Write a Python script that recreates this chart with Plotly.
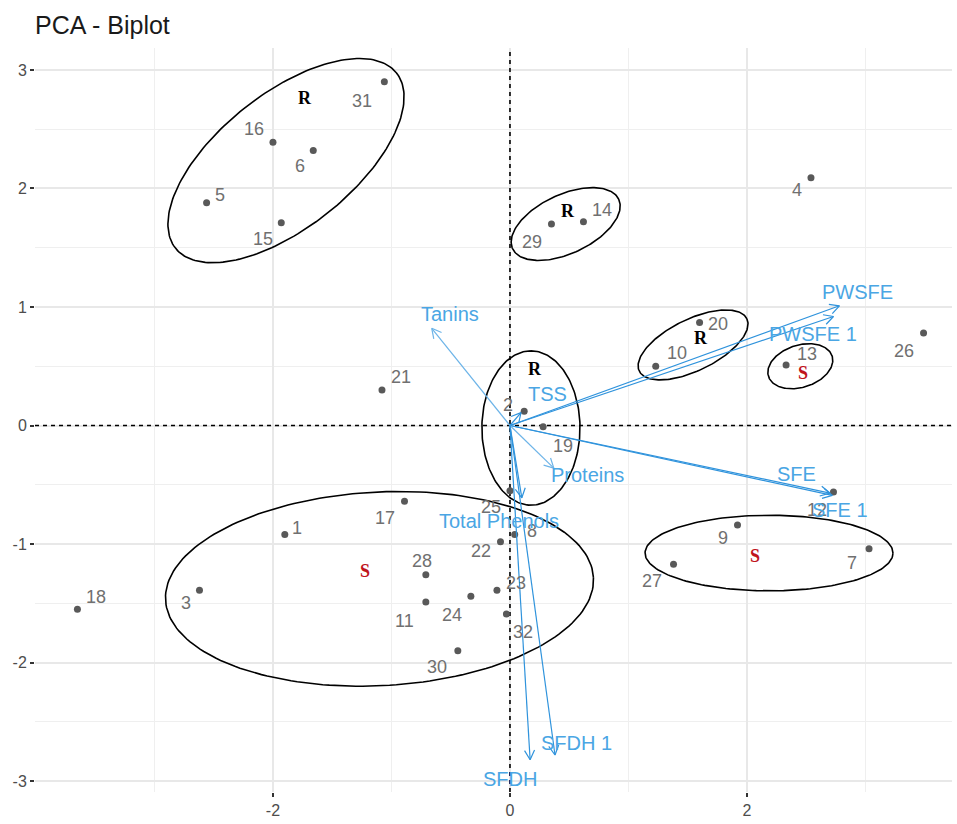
import numpy as np
import plotly.graph_objects as go

# ---- individuals (PC1, PC2 scores) ----
ind_labels = [str(i) for i in range(1, 33)]
ind_x = [-1.90, 0.12, -2.62, 2.54, -2.56, -1.66, 3.03, 0.04, 1.92, 1.23,
         -0.71, 2.73, 2.33, 0.62, -1.93, -2.00, -0.89, -3.65, 0.28, 1.60,
         -1.08, -0.08, -0.11, -0.33, 0.00, 3.49, 1.38, -0.71, 0.35, -0.44,
         -1.06, -0.03]
ind_y = [-0.92, 0.12, -1.39, 2.09, 1.88, 2.32, -1.04, -0.92, -0.84, 0.50,
         -1.49, -0.56, 0.51, 1.72, 1.71, 2.39, -0.64, -1.55, -0.01, 0.87,
         0.30, -0.98, -1.39, -1.44, -0.55, 0.78, -1.17, -1.26, 1.70, -1.90,
         2.90, -1.59]

# ---- variables (loadings, scaled) ----
var_names = ["Tanins", "TSS", "PWSFE", "PWSFE 1", "SFE", "SFE 1",
             "Proteins", "Total Phenols", "SFDH", "SFDH 1"]
var_x = [-0.66, 0.093, 2.78, 2.73, 2.70, 2.72, 0.37, 0.10, 0.17, 0.38]
var_y = [0.82, 0.109, 1.01, 0.92, -0.57, -0.59, -0.36, -0.61, -2.82, -2.78]

# ---- groups: concentration ellipses and their labels ----
group_names = ["R", "R", "R", "R", "S", "S", "S"]
ell_cx = [-1.89, 0.47, 0.177, 1.545, 2.45, -1.101, 2.186]
ell_cy = [2.235, 1.70, -0.021, 0.68, 0.50, -1.378, -1.076]
ell_a = [1.19, 0.494, 0.651, 0.505, 0.282, 1.808, 1.046]
ell_b = [0.565, 0.249, 0.414, 0.217, 0.178, 0.817, 0.319]
ell_angle = [38.4, 25.0, 90.0, 26.0, 17.7, 3.0, 0.0]
group_lab_x = [-1.73, 0.49, 0.21, 1.61, 2.47, -1.22, 2.07]
group_lab_y = [2.76, 1.81, 0.48, 0.74, 0.44, -1.23, -1.10]

# axis ranges and ticks
x_range = [-4.008, 3.73]
y_range = [-3.092, 3.185]
x_ticks = [-2, 0, 2]
y_ticks = [-3, -2, -1, 0, 1, 2, 3]

# label offsets in pixels (dx right, dy up)
ind_lab_off = [(12, 7), (-16, 6), (-13, -13), (-14, -12), (13, 8), (-13, -15),
               (-17, -14), (17, 4), (-15, -13), (21, 13), (-21, -19), (-16, -18),
               (21, 11), (19, 12), (-18, -16), (-19, 13), (-20, -17), (19, 12),
               (20, -19), (18, -2), (19, 13), (-19, -9), (19, 7), (-19, -19),
               (-19, -16), (-20, -18), (-22, -17), (-4, 14), (-19, -18),
               (-21, -16), (-22, -19), (17, -18)]
var_lab_off = [(18, 14), (27, 19), (18, 14), (-20, -18), (-33, 19), (8, -15),
               (34, -7), (-23, -23), (-20, -19), (21, 12)]

FONT = "Liberation Sans, Arial, sans-serif"
BLUE = "#2f93dc"
BLUE_LIGHT = "#6db4e8"
LAB_BLUE = "#4aa6e4"

fig = go.Figure()

# dashed reference axes through the origin
ref_line = dict(color="black", width=1.6, dash="4px,4px")
fig.add_trace(go.Scatter(x=[0, 0], y=y_range, mode="lines", line=ref_line,
                         hoverinfo="skip", showlegend=False, cliponaxis=True))
fig.add_trace(go.Scatter(x=x_range, y=[0, 0], mode="lines", line=ref_line,
                         hoverinfo="skip", showlegend=False, cliponaxis=True))

# ellipses
t = np.linspace(0, 2 * np.pi, 200)
for cx, cy, a, b, ang in zip(ell_cx, ell_cy, ell_a, ell_b, ell_angle):
    th = np.deg2rad(ang)
    ex = cx + a * np.cos(t) * np.cos(th) - b * np.sin(t) * np.sin(th)
    ey = cy + a * np.cos(t) * np.sin(th) + b * np.sin(t) * np.cos(th)
    fig.add_trace(go.Scatter(x=ex, y=ey, mode="lines",
                             line=dict(color="black", width=1.6),
                             hoverinfo="skip", showlegend=False))

# individuals
fig.add_trace(go.Scatter(x=ind_x, y=ind_y, mode="markers",
                         marker=dict(color="#595959", size=7),
                         text=ind_labels, showlegend=False))

# variable arrows with open heads
head_len = 0.09
head_ang = np.deg2rad(28)
for name, vx, vy in zip(var_names, var_x, var_y):
    n = np.hypot(vx, vy)
    ux, uy = vx / n, vy / n
    hx = []
    hy = []
    for s in (1, -1):
        c, sn = np.cos(s * head_ang), np.sin(s * head_ang)
        rx, ry = ux * c - uy * sn, ux * sn + uy * c
        hx.append(vx - head_len * rx)
        hy.append(vy - head_len * ry)
    col = BLUE_LIGHT if name in ("Tanins", "Proteins") else BLUE
    fig.add_trace(go.Scatter(
        x=[0, vx, None, hx[0], vx, hx[1]],
        y=[0, vy, None, hy[0], vy, hy[1]],
        mode="lines", line=dict(color=col, width=1.2),
        hoverinfo="skip", showlegend=False))

annotations = []
for lab, x, y, (dx, dy) in zip(ind_labels, ind_x, ind_y, ind_lab_off):
    annotations.append(dict(x=x, y=y, text=lab, showarrow=False,
                            xshift=dx, yshift=dy,
                            font=dict(family=FONT, size=18, color="#707070")))
for lab, x, y, (dx, dy) in zip(var_names, var_x, var_y, var_lab_off):
    annotations.append(dict(x=x, y=y, text=lab, showarrow=False,
                            xshift=dx, yshift=dy,
                            font=dict(family=FONT, size=20, color=LAB_BLUE)))
for g, x, y in zip(group_names, group_lab_x, group_lab_y):
    annotations.append(dict(x=x, y=y, text="<b>" + g + "</b>", showarrow=False,
                            font=dict(family="Liberation Serif, Times New Roman, serif",
                                      size=18,
                                      color="black" if g == "R" else "#c0141c")))

fig.update_layout(
    width=957, height=824,
    margin=dict(l=35, r=5, t=48, b=29),
    paper_bgcolor="white", plot_bgcolor="white",
    title=dict(text="PCA - Biplot", x=0.0366, xanchor="left",
               y=1 - 25 / 824, yanchor="middle",
               font=dict(family=FONT, size=25, color="#1a1a1a")),
    annotations=annotations,
)
fig.update_xaxes(range=x_range, tickvals=x_ticks,
                 ticktext=[str(v) for v in x_ticks],
                 showgrid=True, gridcolor="#e8e8e8", gridwidth=1.5,
                 zeroline=False, showline=False,
                 ticks="outside", ticklen=4, tickwidth=1.5, tickcolor="#333333",
                 tickfont=dict(family=FONT, size=16, color="#4d4d4d"),
                 minor=dict(tickvals=[-3, -1, 1, 3], showgrid=True,
                            gridcolor="#efefef", gridwidth=1, ticks=""))
fig.update_yaxes(range=y_range, tickvals=y_ticks,
                 ticktext=[str(v) for v in y_ticks],
                 showgrid=True, gridcolor="#e8e8e8", gridwidth=1.5,
                 zeroline=False, showline=False,
                 ticks="outside", ticklen=4, tickwidth=1.5, tickcolor="#333333",
                 tickfont=dict(family=FONT, size=16, color="#4d4d4d"),
                 minor=dict(tickvals=[-2.5, -1.5, -0.5, 0.5, 1.5, 2.5],
                            showgrid=True, gridcolor="#efefef", gridwidth=1,
                            ticks=""))

fig.write_html("out.html")
